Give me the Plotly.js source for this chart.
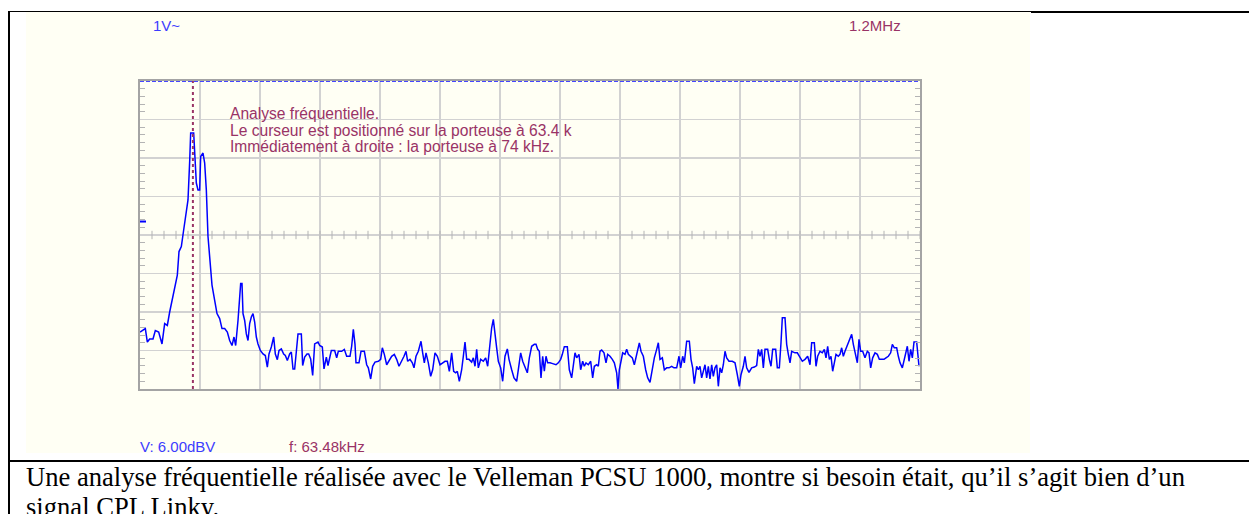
<!DOCTYPE html>
<html>
<head>
<meta charset="utf-8">
<script src="https://cdn.plot.ly/plotly-3.0.1.min.js"></script>
<style>
html,body{margin:0;padding:0;background:#fff;overflow:hidden;}
#chart{width:1249px;height:514px;}
</style>
</head>
<body>
<div id="chart"></div>
<script>
// Spectrum (frequency in kHz, level in dBV)
const freqKHz = [
0,3.6,6.4,8.8,11.6,15.6,18.4,22.4,26.4,29.6,32.8,35.6,38.4,41.6,44.8,46.8,49.6,52.4,54.8,57.6,
59.6,60.8,64.4,65.6,67.6,69.6,71.6,72.8,75.6,77.6,79.6,81.6,83.6,86.4,89.6,92.4,95.6,98.4,101.6,104.8,
107.6,110.4,112.8,114.8,117.6,119.6,120.8,122.4,123.6,125.6,127.6,129.6,131.6,133.6,135.6,137.6,139.6,141.6,144.4,147.6,
150.4,152.8,154.8,157.6,160.4,162.4,164.8,166.8,169.6,172.4,174.4,176.8,179.6,181.6,183.6,185.6,187.6,189.6,193.6,195.2,
197.6,200.4,202.4,204.8,207.2,209.6,213.6,215.6,218.8,220.8,223.6,225.6,229.6,233.6,
236,238,242,245.2,248,252,254,256,258,259.2,262.8,265.2,269.2,272,274,276.8,279.2,282,286,288.8,
290.8,293.2,296,298.8,302,305.2,308,310.8,314,316.8,319.2,321.2,324,326.8,328.8,331.2,334,337.2,339.2,341.2,
343.2,346,348.8,351.2,354,356.8,360,362.8,366,368.8,371.2,374,376.4,378.8,380.8,383.2,386,388,390,392,
394.8,398,400,402,404,406,408.8,412,414.8,417.2,420,422,424,426,428,430,432.8,435.2,438,440.8,
442.8,446,448.8,452,454,456.8,459.2,462,464.8,467.2,470,473.2,
475.2,477.2,479.2,481.2,483.2,485.2,487.2,489.2,492,495.2,499.2,502,504.8,506.8,509.2,512.8,515.2,518,520,522,
524,526.8,528.8,531.2,533.2,535.2,538,540.8,543.2,545.2,548,550,552,554,556.8,559.2,561.2,564,566.8,569.2,
572,573.6,575.2,577.2,579.2,582,584,586,588.8,590.8,593.2,595.2,597.2,599.2,601.2,604,606.8,609.2,612,614.8,
617.2,620,622,624,626.8,629.2,632,634.8,638,640.8,644,646.8,648.8,651.2,653.2,656,659.2,661.2,663.2,665.2,
668,670,672,674,676,678,680,682,684,686,688,690,692,694,696,698,700,702,
704,706.8,710.8,714,716.8,719.2,721.2,724,726,728,730.8,734,737.2,740,742,744,746,748,750,753.2,
755.2,757.2,759.2,762.8,764.8,767.2,769.2,770.8,774,776,778,780,782,786,788.8,792,794.8,798,801.2,804,
806,809.2,811.2,813.2,816,818.8,821.2,823.2,825.2,827.2,829.2,831.2,833.2,835.2,838,840,842,844,846,849.2,
852,854,856,858,860.8,862.8,864.8,867.2,870,872.8,874.8,876.8,879.2,882,884.8,887.2,890,892.8,895.2,898,
900.8,902.8,905.2,908,910,912,914.8,916.8,918.8,920.8,922.8,924.8,926.8,928.8,932,933.2,934.8
];
const levelDBV = [
-45.2,-44.8,-44.3,-47.8,-47.0,-47.0,-44.8,-45.2,-48.3,-43.0,-43.5,-40.0,-37.0,-33.0,-30.4,-24.3,-23.0,-18.7,-15.2,-10.9,
-0.9,6.5,6.5,0,-6.5,-8.3,-8.3,0.4,1.3,-1.3,-8.3,-20.4,-26.5,-33.0,-37.0,-40.4,-41.7,-44.3,-44.3,-45.2,
-47.4,-48.7,-46.5,-48.7,-42.2,-37.0,-32.6,-32.6,-40.4,-42.2,-45.7,-47.4,-43.0,-41.3,-40.4,-42.6,-46.5,-48.3,-50.0,-50.9,
-51.3,-54.3,-50.9,-49.1,-46.5,-50.9,-52.4,-50.0,-49.6,-50.9,-51.3,-52.6,-50.9,-50.4,-54.8,-54.8,-50.9,-45.7,-45.7,-53.9,
-51.7,-50.9,-50.9,-52.2,-56.5,-48.3,-47.8,-48.7,-49.1,-54.8,-51.7,-53.9,-50.0,-50.0,
-51.9,-50.2,-50.2,-49.7,-51.5,-51.5,-48.9,-44.5,-48.4,-53.2,-53.2,-50.2,-50.2,-53.7,-54.5,-57.4,-54.1,-53.0,-52.8,-52.3,
-49.3,-51.0,-53.7,-52.8,-51.5,-51.0,-52.3,-54.1,-52.8,-51.5,-50.2,-52.8,-52.3,-53.2,-54.5,-51.5,-50.2,-47.6,-50.6,-53.2,
-50.6,-53.2,-56.7,-55.0,-50.6,-51.5,-53.7,-53.2,-52.8,-52.8,-55.4,-50.6,-55.4,-55.8,-55.4,-58.0,-55.0,-51.5,-47.8,-52.3,
-52.3,-53.0,-51.9,-54.1,-49.7,-54.5,-52.3,-52.8,-51.9,-54.1,-47.1,-44.1,-41.9,-45.0,-49.3,-52.8,-54.5,-58.0,-51.5,-49.6,
-52.3,-55.0,-57.1,-58.0,-54.5,-50.6,-52.8,-54.5,-55.8,-51.9,-48.9,-48.4,
-48.4,-49.7,-50.2,-57.1,-51.5,-55.4,-51.5,-53.2,-53.2,-53.4,-53.7,-53.2,-52.3,-51.0,-49.0,-49.0,-55.0,-57.1,-53.7,-50.6,
-51.9,-51.0,-55.0,-52.8,-54.1,-53.2,-53.7,-52.8,-57.1,-54.1,-53.7,-54.1,-50.2,-49.9,-50.6,-53.2,-51.0,-51.5,-52.3,-53.2,
-55.8,-60.0,-55.0,-52.3,-50.6,-51.0,-49.7,-51.0,-51.5,-51.9,-53.7,-51.5,-49.3,-48.0,-50.2,-51.5,-55.0,-57.1,-58.3,-55.0,
-51.9,-49.7,-48.0,-52.3,-51.9,-55.0,-54.5,-54.5,-54.1,-54.5,-54.5,-51.5,-54.5,-51.5,-53.2,-47.6,-47.6,-52.3,-54.5,-58.6,
-54.1,-55.0,-54.1,-57.1,-55.0,-53.7,-57.1,-54.1,-57.4,-53.7,-56.7,-54.5,-53.7,-59.3,-54.5,-55.8,-53.7,-50.2,
-51.9,-52.8,-52.8,-53.2,-56.3,-59.3,-56.3,-54.1,-51.5,-54.5,-55.7,-54.5,-54.3,-53.9,-49.7,-51.5,-49.7,-54.5,-49.7,-49.7,
-52.3,-54.1,-49.7,-49.7,-54.5,-54.5,-48.0,-41.5,-41.5,-48.4,-51.0,-53.2,-50.2,-50.6,-50.6,-51.9,-52.8,-52.3,-51.5,-53.7,
-48.0,-48.0,-54.1,-51.5,-50.2,-50.6,-49.7,-51.9,-48.9,-52.3,-51.5,-55.4,-52.8,-51.0,-51.5,-51.0,-49.3,-51.5,-50.2,-48.4,
-47.1,-45.8,-48.4,-50.6,-53.2,-47.1,-50.2,-50.2,-51.9,-50.2,-50.6,-54.5,-51.9,-50.6,-51.0,-52.3,-52.3,-52.3,-51.9,-51.5,
-50.6,-48.4,-49.3,-49.3,-51.5,-53.2,-54.5,-52.8,-50.6,-48.9,-52.8,-49.7,-51.9,-47.8,-47.8,-50.6,-54.1
];

// Scope settings / readouts
const spanKHz = 936;          // 13 divisions
const divKHz = 72;
const topDBV = 20, bottomDBV = -60, divDB = 10;
const cursorKHz = 63.48;
const markerDBV = -16.5;
const scaleText = "1V~";
const rateText = "1.2MHz";
const noteLines = [
  "Analyse fréquentielle.",
  "Le curseur est positionné sur la porteuse à 63.4 k",
  "Immédiatement à droite : la porteuse à 74 kHz."
];
const readV = "V: 6.00dBV";
const readF = "f: 63.48kHz";
const captionLines = [
  "Une analyse fréquentielle réalisée avec le Velleman PCSU 1000, montre si besoin était, qu’il s’agit bien d’un",
  "signal CPL Linky."
];

// layout geometry (pixels)
const W = 1249, H = 514;
const L = 140, R = 920, T = 81, B = 389;
const X = p => (p - L) / (R - L);
const Y = p => (B - p) / (B - T);

const cream = '#fffff4';
const blueTxt = '#3c3cff';
const maroon = '#993366';
const tickGray = '#b4b4b4';
const sans = 'Liberation Sans, Arial, sans-serif';
const serif = 'Liberation Serif, Times New Roman, serif';

const minorX = [];
for (let f = divKHz / 5; f < spanKHz; f += divKHz / 5) minorX.push(+f.toFixed(2));

const traces = [
  {
    x: minorX, y: minorX.map(() => -20), type: 'scatter', mode: 'markers',
    marker: {symbol: 'line-ns-open', size: 6, color: tickGray, line: {color: tickGray, width: 1}},
    hoverinfo: 'skip', showlegend: false
  },
  {
    x: freqKHz, y: levelDBV, type: 'scatter', mode: 'lines',
    line: {color: '#0000ff', width: 1.5}, showlegend: false
  }
];

function txt(text, xp, yp, color, size, family) {
  return {text: text, x: X(xp), y: Y(yp), xref: 'paper', yref: 'paper',
    xanchor: 'left', yanchor: 'middle', showarrow: false,
    borderpad: 0, font: {color: color, size: size, family: family}};
}

const annotations = [
  txt(scaleText, 152, 26, blueTxt, 15, sans),
  txt(rateText, 848, 26, maroon, 15, sans),
  txt(noteLines[0], 229, 114, maroon, 15.6, sans),
  txt(noteLines[1], 229, 130, maroon, 15.6, sans),
  txt(noteLines[2], 229, 146, maroon, 15.6, sans),
  txt(readV, 139, 447, blueTxt, 15, sans),
  txt(readF, 288, 447, maroon, 15, sans),
  txt(captionLines[0], 25, 477, '#000', 26.6, serif),
  txt(captionLines[1], 25, 507, '#000', 26.6, serif)
];

const shapes = [
  // cream panel
  {type: 'rect', xref: 'paper', yref: 'paper', x0: X(26), x1: X(1030), y0: Y(453), y1: Y(12),
   fillcolor: cream, line: {width: 0}, layer: 'below'},
  // table borders
  {type: 'line', xref: 'paper', yref: 'paper', x0: X(9), x1: X(1031), y0: Y(11.5), y1: Y(11.5), line: {color: '#000', width: 1}},
  {type: 'line', xref: 'paper', yref: 'paper', x0: X(1031), x1: X(1249), y0: Y(12), y1: Y(12), line: {color: '#000', width: 2}},
  {type: 'line', xref: 'paper', yref: 'paper', x0: X(9), x1: X(9), y0: Y(11), y1: Y(514), line: {color: '#000', width: 2}},
  {type: 'line', xref: 'paper', yref: 'paper', x0: X(9), x1: X(1249), y0: Y(461), y1: Y(461), line: {color: '#000', width: 2}},
  // dashed blue level line on top edge
  {type: 'line', xref: 'paper', yref: 'y', x0: 0, x1: 1, y0: topDBV, y1: topDBV,
   line: {color: '#4646ff', width: 2, dash: '4px,2px'}},
  // cursor
  {type: 'line', xref: 'x', yref: 'paper', x0: cursorKHz, x1: cursorKHz, y0: 0, y1: 1,
   line: {color: maroon, width: 2, dash: '3px,3px'}},
  // reference level marker on left edge
  {type: 'line', xref: 'paper', yref: 'y', x0: 0, x1: X(146), y0: markerDBV, y1: markerDBV,
   line: {color: '#0000ff', width: 2}}
];

const axisCommon = {
  showgrid: true, gridcolor: '#d2d2d2', gridwidth: 1.5, zeroline: false,
  showticklabels: false, ticks: '', showline: true, linecolor: '#a4a4a4', linewidth: 2,
  mirror: true, fixedrange: true
};

const layout = {
  width: W, height: H,
  margin: {l: L, r: W - R, t: T, b: H - B, pad: 0},
  paper_bgcolor: '#ffffff', plot_bgcolor: cream,
  showlegend: false,
  xaxis: Object.assign({}, axisCommon, {range: [0, spanKHz], dtick: divKHz, tick0: 0}),
  yaxis: Object.assign({}, axisCommon, {range: [bottomDBV, topDBV], dtick: divDB, tick0: 0,
    mirror: 'allticks',
    minor: {dtick: divDB / 5, ticks: 'inside', ticklen: 5, tickcolor: tickGray, tickwidth: 1, showgrid: false}}),
  shapes: shapes,
  annotations: annotations
};

Plotly.newPlot('chart', traces, layout, {displayModeBar: false, staticPlot: true});
</script>
</body>
</html>
